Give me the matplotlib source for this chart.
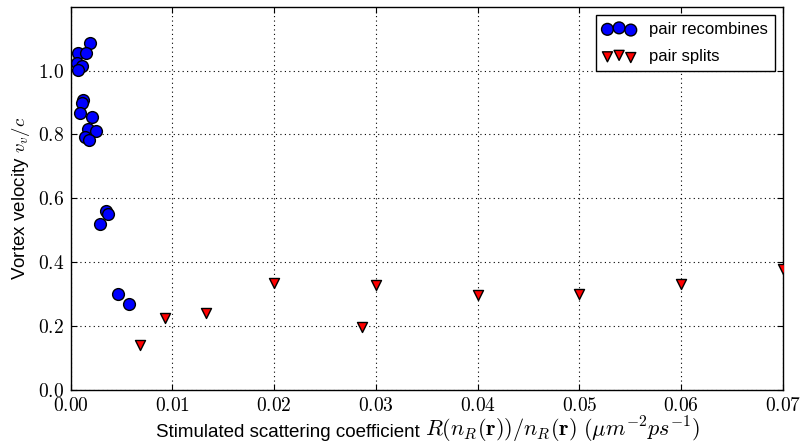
import matplotlib

matplotlib.use("Agg")
import matplotlib.pyplot as plt
from matplotlib.offsetbox import AnchoredOffsetbox, HPacker, TextArea
from matplotlib.ticker import FuncFormatter, MultipleLocator

plt.rcParams["mathtext.fontset"] = "cm"
plt.rcParams["font.family"] = ["Liberation Sans", "DejaVu Sans"]

# pair recombines (blue circles)
rec_coef = [0.0019, 0.00075, 0.0015, 0.00065, 0.0011, 0.00075, 0.0012, 0.0011,
            0.0009, 0.0021, 0.0017, 0.0025, 0.0014, 0.0018,
            0.0035, 0.0037, 0.0029, 0.0046, 0.0057]
rec_vel = [1.086, 1.054, 1.056, 1.025, 1.013, 1.002, 0.908, 0.898,
           0.867, 0.856, 0.817, 0.812, 0.793, 0.783,
           0.561, 0.550, 0.520, 0.301, 0.268]

# pair splits (red triangles)
split_coef = [0.0068, 0.0093, 0.0133, 0.02, 0.0286, 0.03, 0.04, 0.05, 0.06, 0.07]
split_vel = [0.141, 0.226, 0.240, 0.335, 0.196, 0.330, 0.299, 0.301, 0.332, 0.379]

fig = plt.figure(figsize=(8.01, 4.47), dpi=100)
ax = fig.add_axes([0.0883, 0.1275, 0.8892, 0.8575])

ax.scatter(rec_coef, rec_vel, s=72, marker="o", c="#0000ff",
           edgecolors="black", linewidths=1.0, label="pair recombines", zorder=3)
ax.scatter(split_coef, split_vel, s=52, marker="v", c="#ff0000",
           edgecolors="black", linewidths=1.0, label="pair splits", zorder=3)

ax.set_xlim(0, 0.07)
ax.set_ylim(0, 1.2)
ax.xaxis.set_major_locator(MultipleLocator(0.01))
ax.set_yticks([0.0, 0.2, 0.4, 0.6, 0.8, 1.0])
ax.xaxis.set_major_formatter(FuncFormatter(lambda v, p: f"${v:.2f}$"))
ax.yaxis.set_major_formatter(FuncFormatter(lambda v, p: f"${v:.1f}$"))
ax.tick_params(direction="in", top=True, right=True, length=4, width=0.8,
               labelsize=14, pad=5)
ax.grid(True, linestyle=(0, (1, 3)), color="black", linewidth=0.8)
for sp in ax.spines.values():
    sp.set_linewidth(1.0)

# x label: sans text followed by a larger math part
lbl_text = TextArea("Stimulated scattering coefficient ",
                    textprops=dict(fontsize=13.5))
lbl_math = TextArea(r"$R(n_R(\mathbf{r}))/n_R(\mathbf{r})\ (\mu m^{-2} ps^{-1})$",
                    textprops=dict(fontsize=16))
xlab = AnchoredOffsetbox(loc="center",
                         child=HPacker(children=[lbl_text, lbl_math],
                                       align="baseline", pad=0, sep=0),
                         pad=0, borderpad=0, frameon=False,
                         bbox_to_anchor=(0.535, 1 - 430 / 447),
                         bbox_transform=fig.transFigure)
fig.add_artist(xlab)

ax.set_ylabel(r"Vortex velocity $v_v/c$", fontsize=13.5, labelpad=4)

leg = ax.legend(loc="upper right", scatterpoints=3, fontsize=12, fancybox=False,
                edgecolor="black", framealpha=1.0, labelspacing=0.75)
leg.get_frame().set_linewidth(1.0)

fig.savefig("out.png", dpi=100)
